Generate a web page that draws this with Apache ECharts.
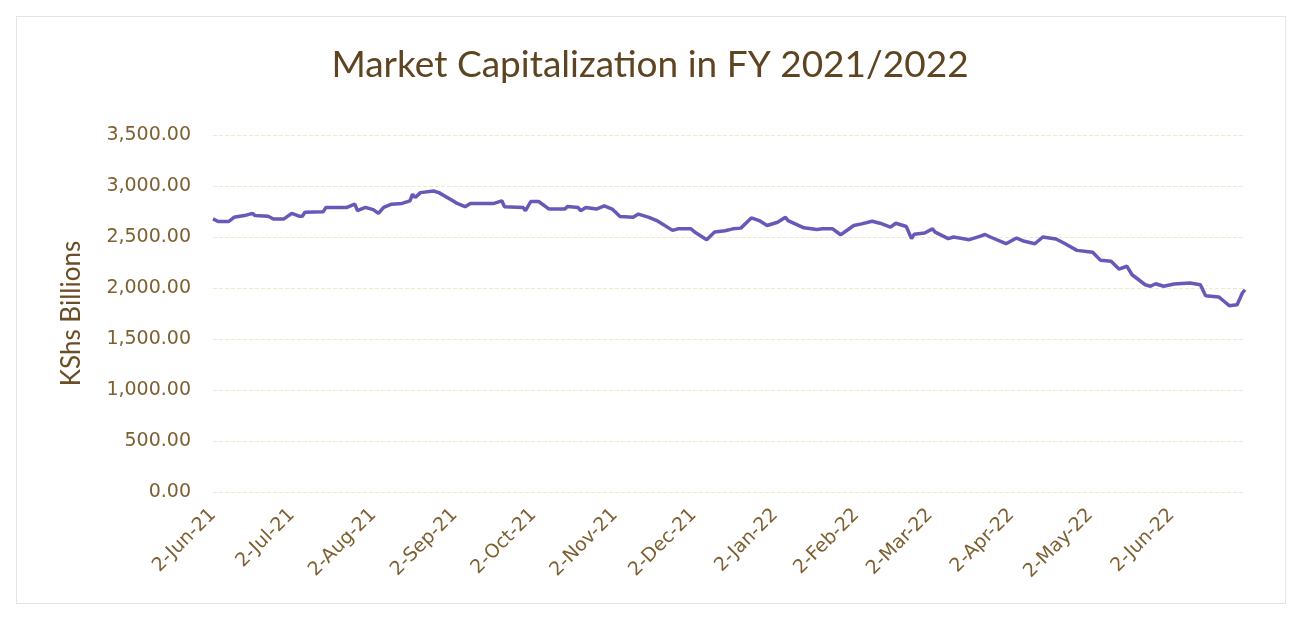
<!DOCTYPE html>
<html>
<head>
<meta charset="utf-8">
<title>Market Capitalization in FY 2021/2022</title>
<script src="https://cdn.jsdelivr.net/npm/echarts@6/dist/echarts.min.js"></script>
<style>
  html, body { margin: 0; padding: 0; background: #fff; }
  #frame { position: absolute; left: 16px; top: 16px; width: 1268px; height: 586px; border: 1px solid #e4e4e4; }
  #main { position: absolute; left: 0; top: 0; width: 1300px; height: 619px; }
</style>
</head>
<body>
<div id="frame"></div>
<div id="main"></div>
<script>
// trading dates and market cap (KShs billions)
var dates = [
  '2021-06-02', '2021-06-04', '2021-06-08', '2021-06-10', '2021-06-14', '2021-06-17', '2021-06-18', '2021-06-23',
  '2021-06-25', '2021-06-29', '2021-07-02', '2021-07-05', '2021-07-06', '2021-07-07', '2021-07-14', '2021-07-15',
  '2021-07-23', '2021-07-26', '2021-07-27', '2021-07-30', '2021-08-02', '2021-08-04', '2021-08-06', '2021-08-09',
  '2021-08-13', '2021-08-16', '2021-08-17', '2021-08-18', '2021-08-20', '2021-08-25', '2021-08-27', '2021-09-01',
  '2021-09-03', '2021-09-06', '2021-09-08', '2021-09-17', '2021-09-20', '2021-09-21', '2021-09-28', '2021-09-29',
  '2021-10-01', '2021-10-04', '2021-10-08', '2021-10-14', '2021-10-15', '2021-10-19', '2021-10-20', '2021-10-22',
  '2021-10-26', '2021-10-29', '2021-11-01', '2021-11-04', '2021-11-09', '2021-11-11', '2021-11-15', '2021-11-18',
  '2021-11-24', '2021-11-26', '2021-12-01', '2021-12-03', '2021-12-07', '2021-12-10', '2021-12-14', '2021-12-17',
  '2021-12-20', '2021-12-23', '2021-12-24', '2021-12-27', '2021-12-30', '2022-01-03', '2022-01-06', '2022-01-07',
  '2022-01-13', '2022-01-18', '2022-01-20', '2022-01-24', '2022-01-27', '2022-01-28', '2022-02-01', '2022-02-04',
  '2022-02-08', '2022-02-11', '2022-02-15', '2022-02-17', '2022-02-21', '2022-02-23', '2022-02-24', '2022-02-28',
  '2022-03-03', '2022-03-04', '2022-03-09', '2022-03-11', '2022-03-17', '2022-03-21', '2022-03-23', '2022-03-25',
  '2022-03-31', '2022-04-04', '2022-04-07', '2022-04-11', '2022-04-14', '2022-04-19', '2022-04-22', '2022-04-27',
  '2022-05-03', '2022-05-06', '2022-05-10', '2022-05-13', '2022-05-16', '2022-05-18', '2022-05-23', '2022-05-25',
  '2022-05-27', '2022-05-30', '2022-06-03', '2022-06-09', '2022-06-13', '2022-06-15', '2022-06-20', '2022-06-22',
  '2022-06-24', '2022-06-27', '2022-06-29', '2022-06-30'
]
var marketCap = [
  2677, 2652, 2652, 2693, 2710, 2732, 2710, 2703,
  2677, 2677, 2732, 2703, 2703, 2742, 2748, 2790,
  2790, 2822, 2758, 2790, 2768, 2732, 2790, 2822,
  2829, 2855, 2919, 2887, 2935, 2951, 2935, 2861,
  2829, 2797, 2829, 2829, 2855, 2797, 2790, 2758,
  2848, 2848, 2774, 2774, 2800, 2790, 2758, 2790,
  2774, 2806, 2774, 2700, 2693, 2725, 2693, 2661,
  2565, 2580, 2580, 2539, 2474, 2548, 2562, 2580,
  2587, 2661, 2687, 2661, 2613, 2645, 2693, 2661,
  2590, 2574, 2580, 2580, 2522, 2539, 2613, 2629,
  2655, 2635, 2597, 2635, 2603, 2484, 2526, 2539,
  2580, 2548, 2484, 2500, 2474, 2506, 2525, 2500,
  2434, 2490, 2458, 2434, 2500, 2480, 2441, 2369,
  2350, 2271, 2262, 2186, 2213, 2130, 2032, 2017,
  2042, 2017, 2039, 2049, 2032, 1925, 1912, 1870,
  1827, 1836, 1951, 1983
]
// x axis labels fall on the 2nd of every month
var tickDates = [
  '2021-06-02', '2021-07-02', '2021-08-02', '2021-09-02', '2021-10-02', '2021-11-02', '2021-12-02',
  '2022-01-02', '2022-02-02', '2022-03-02', '2022-04-02', '2022-05-02', '2022-06-02'
]
var monthNames = ['Jan', 'Feb', 'Mar', 'Apr', 'May', 'Jun', 'Jul', 'Aug', 'Sep', 'Oct', 'Nov', 'Dec']

var DAY = 86400000
var start = Date.UTC(2021, 5, 2)

// days since 2-Jun-21, so the x axis is a plain value axis in calendar days
function toDay(s) {
  var p = s.split('-')
  return Math.round((Date.UTC(+p[0], +p[1] - 1, +p[2]) - start) / DAY)
}

function dayLabel(n) {
  var d = new Date(start + Math.round(n) * DAY)
  return d.getUTCDate() + '-' + monthNames[d.getUTCMonth()] + '-' + String(d.getUTCFullYear()).slice(2)
}

var brown = '#7d5f30'
var chart = echarts.init(document.getElementById('main'))
var option = {
  animation: false,
  title: {
    text: 'Market Capitalization in FY 2021/2022',
    left: 'center',
    top: 42,
    padding: [5, 5, 5, 27],
    textStyle: { fontFamily: 'Lato', fontSize: 37, fontWeight: 'normal', color: '#5e4420' }
  },
  grid: { left: 213, right: 55, top: 135, bottom: 127 },
  xAxis: {
    type: 'value',
    min: 0,
    max: toDay('2022-06-30'),
    splitLine: { show: false },
    axisLine: { show: false },
    axisTick: { show: false },
    axisLabel: {
      customValues: tickDates.map(toDay),
      rotate: 45,
      margin: 20,
      color: brown,
      fontFamily: 'DejaVu Sans',
      fontSize: 19,
      formatter: function (v) { return dayLabel(v) }
    }
  },
  yAxis: {
    type: 'value',
    min: 0,
    max: 3500,
    interval: 500,
    name: 'KShs Billions',
    nameLocation: 'middle',
    nameRotate: 90,
    nameGap: 128,
    nameTextStyle: { fontFamily: 'Lato', fontSize: 26, color: '#6b4e26' },
    axisLine: { show: false },
    axisTick: { show: false },
    axisLabel: {
      margin: 22,
      color: brown,
      fontFamily: 'DejaVu Sans',
      fontSize: 19,
      formatter: function (v) {
        return v.toLocaleString('en-US') + '.00'
      }
    },
    splitLine: { lineStyle: { color: '#efe8cf', type: 'dashed', width: 1 } }
  },
  series: [
    {
      type: 'line',
      data: dates.map(function (d, i) { return [toDay(d), marketCap[i]] }),
      showSymbol: false,
      lineStyle: { color: '#6a57b8', width: 3.5 },
      itemStyle: { color: '#6a57b8' }
    }
  ]
}
chart.setOption(option)
</script>
</body>
</html>
